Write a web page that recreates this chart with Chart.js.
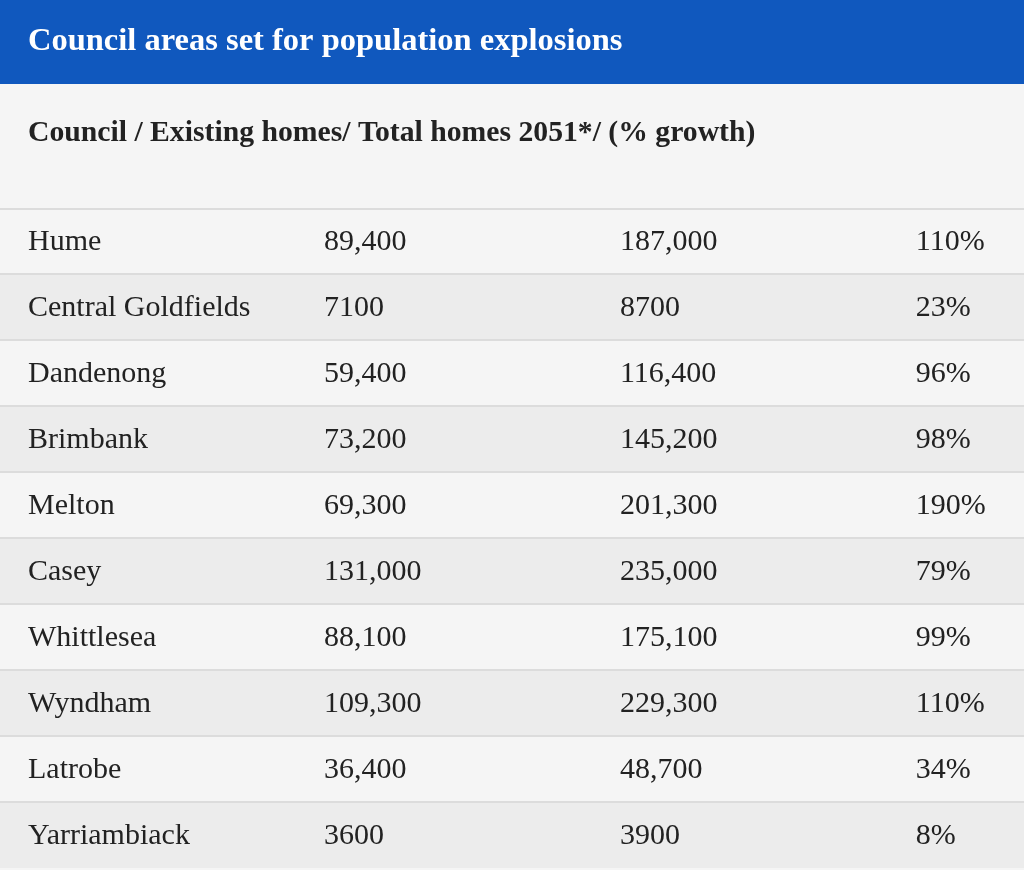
<!DOCTYPE html>
<html>
<head>
<meta charset="utf-8">
<script src="https://cdn.jsdelivr.net/npm/chart.js@4"></script>
<style>
  html, body { margin: 0; padding: 0; background: #f5f5f5; }
  #wrap { width: 1024px; height: 870px; }
</style>
</head>
<body>
<div id="wrap"><canvas id="homesTable" aria-label="Council areas set for population explosions" role="img"></canvas></div>
<script>
const title = "Council areas set for population explosions";
const subtitle = "Council / Existing homes/ Total homes 2051*/ (% growth)";
const councils = ["Hume", "Central Goldfields", "Dandenong", "Brimbank", "Melton", "Casey", "Whittlesea", "Wyndham", "Latrobe", "Yarriambiack"];
const existingHomes = ["89,400", "7100", "59,400", "73,200", "69,300", "131,000", "88,100", "109,300", "36,400", "3600"];
const totalHomes2051 = ["187,000", "8700", "116,400", "145,200", "201,300", "235,000", "175,100", "229,300", "48,700", "3900"];
const growth = ["110%", "23%", "96%", "98%", "190%", "79%", "99%", "110%", "34%", "8%"];

const columns = [councils, existingHomes, totalHomes2051, growth];
const serif = "'Liberation Serif', 'DejaVu Serif', serif";

const tablePlugin = {
  id: "tableText",
  beforeDraw: function (chart) {
    const ctx = chart.ctx;
    ctx.save();
    ctx.fillStyle = "#f5f5f5";
    ctx.fillRect(0, 0, chart.width, chart.height);
    ctx.fillStyle = "#1058be";
    ctx.fillRect(0, 0, chart.width, 84);
    ctx.fillStyle = "#ffffff";
    ctx.font = "bold 32.5px " + serif;
    ctx.textBaseline = "middle";
    ctx.fillText(title, 28, 42);
    ctx.fillStyle = "#222222";
    ctx.font = "bold 29.7px " + serif;
    ctx.fillText(subtitle, 28, 133);
    ctx.restore();
  },
  afterDatasetsDraw: function (chart) {
    const ctx = chart.ctx;
    const x = chart.scales.x;
    const y = chart.scales.y;
    const area = chart.chartArea;
    ctx.save();
    // row separators
    ctx.strokeStyle = "#dcdcdc";
    ctx.lineWidth = 2;
    for (let r = 0; r < councils.length; r++) {
      const top = r === 0 ? area.top + 1 : (y.getPixelForValue(r - 1) + y.getPixelForValue(r)) / 2;
      ctx.beginPath();
      ctx.moveTo(area.left, top);
      ctx.lineTo(area.right, top);
      ctx.stroke();
    }
    ctx.fillStyle = "#222222";
    ctx.font = "30px " + serif;
    ctx.textBaseline = "middle";
    columns.forEach(function (col, c) {
      col.forEach(function (text, r) {
        ctx.fillText(text, x.getPixelForValue(c) + 28, y.getPixelForValue(r) + 1);
      });
    });
    ctx.restore();
  },
};

new Chart(document.getElementById("homesTable").getContext("2d"), {
  type: "bar",
  data: {
    labels: councils,
    datasets: [
      {
        data: councils.map(() => [0, 3.46]),
        backgroundColor: councils.map((c, i) => (i % 2 === 0 ? "#f5f5f5" : "#ececec")),
        borderWidth: 0,
        barPercentage: 1,
        categoryPercentage: 1,
      },
    ],
  },
  options: {
    indexAxis: "y",
    responsive: true,
    maintainAspectRatio: false,
    animation: false,
    layout: { padding: { top: 208, bottom: 2, left: 0, right: 0 } },
    plugins: { legend: { display: false }, tooltip: { enabled: false }, title: { display: false } },
    scales: {
      x: { display: false, min: 0, max: 3.46 },
      y: { display: false },
    },
  },
  plugins: [tablePlugin],
});
</script>
</body>
</html>
